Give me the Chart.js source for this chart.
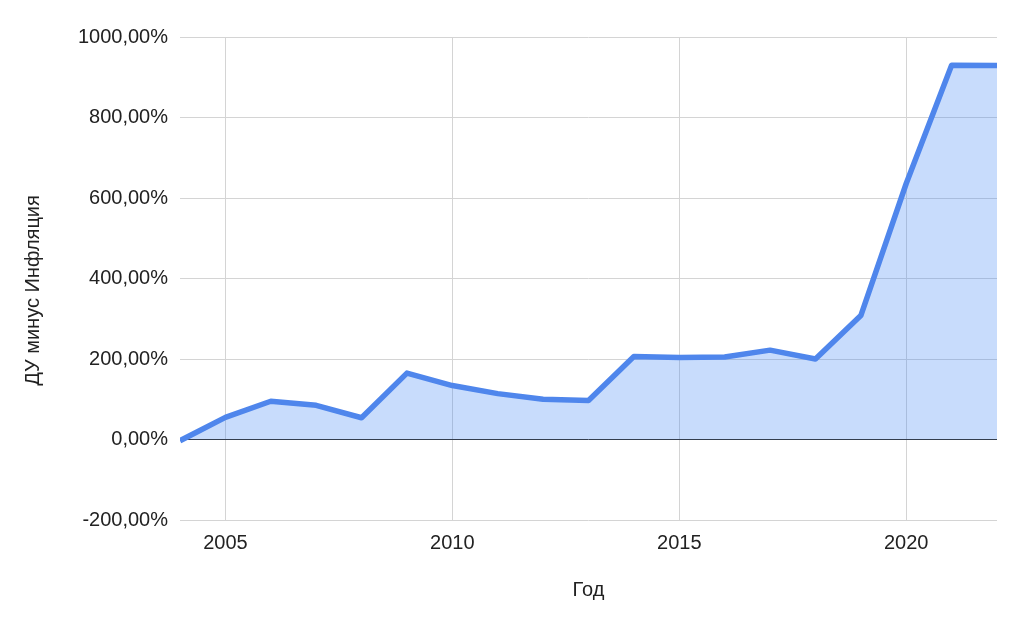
<!DOCTYPE html>
<html>
<head>
<meta charset="utf-8">
<script src="https://cdn.jsdelivr.net/npm/chart.js@4/dist/chart.umd.min.js"></script>
<style>
  html, body { margin: 0; padding: 0; background: #fff; }
  #wrap { width: 1024px; height: 635px; }
</style>
</head>
<body>
<div id="wrap"><canvas id="c" width="1024" height="635"></canvas></div>
<script>
const years = [2004, 2005, 2006, 2007, 2008, 2009, 2010, 2011, 2012, 2013, 2014, 2015, 2016, 2017, 2018, 2019, 2020, 2021, 2022];
const values = [-3, 55, 95, 85, 54, 165, 134, 114, 100, 97, 206, 204, 205, 222, 200, 308, 636, 930, 929];
const xTickValues = [2005, 2010, 2015, 2020];
const yTickValues = [-200, 0, 200, 400, 600, 800, 1000];
const xTitle = 'Год';
const yTitle = 'ДУ минус Инфляция';

const FONT = "'Liberation Sans', Arial, Helvetica, sans-serif";
Chart.defaults.font.family = FONT;
Chart.defaults.color = '#222';

// y-axis title drawn slightly below chart-area centre, as in the reference
const yTitlePlugin = {
  id: 'yTitle',
  afterDraw(chart) {
    const ctx = chart.ctx;
    const area = chart.chartArea;
    ctx.save();
    ctx.translate(33, (area.top + area.bottom) / 2 + 12);
    ctx.rotate(-Math.PI / 2);
    ctx.font = "20px " + FONT;
    ctx.fillStyle = '#222';
    ctx.textAlign = 'center';
    ctx.textBaseline = 'middle';
    ctx.fillText(yTitle, 0, 0);
    ctx.restore();
  }
};

new Chart(document.getElementById('c'), {
  type: 'line',
  data: {
    datasets: [{
      data: years.map((y, i) => ({ x: y, y: values[i] })),
      borderColor: '#4F86EC',
      backgroundColor: 'rgba(66,133,244,0.29)',
      borderWidth: 5.5,
      borderJoinStyle: 'round',
      borderCapStyle: 'butt',
      fill: 'origin',
      tension: 0,
      pointRadius: 0
    }]
  },
  plugins: [yTitlePlugin],
  options: {
    responsive: false,
    animation: false,
    layout: { padding: { top: 37, right: 27, left: 0, bottom: 0 } },
    plugins: { legend: { display: false }, tooltip: { enabled: false } },
    scales: {
      x: {
        type: 'linear',
        min: 2004,
        max: 2022,
        afterBuildTicks: s => { s.ticks = xTickValues.map(v => ({ value: v })); },
        afterFit: s => { s.height = 115; },
        border: { display: false },
        grid: { color: '#d4d4d4', lineWidth: 1, drawTicks: false },
        ticks: {
          padding: 11,
          font: { size: 20 },
          color: '#222',
          maxRotation: 0,
          callback: v => String(v)
        },
        title: {
          display: true,
          text: xTitle,
          font: { size: 20 },
          color: '#222',
          padding: { top: 33, bottom: 33 }
        }
      },
      y: {
        min: -200,
        max: 1000,
        afterBuildTicks: s => { s.ticks = yTickValues.map(v => ({ value: v })); },
        afterFit: s => { s.width = 180; },
        border: { display: false },
        grid: {
          color: ctx => (ctx.tick && ctx.tick.value === 0) ? '#333333' : '#d4d4d4',
          lineWidth: 1,
          drawTicks: false
        },
        ticks: {
          padding: 12,
          font: { size: 20 },
          color: '#222',
          callback: v => v.toFixed(2).replace('.', ',') + '%'
        },
        title: { display: false }
      }
    }
  }
});
</script>
</body>
</html>
